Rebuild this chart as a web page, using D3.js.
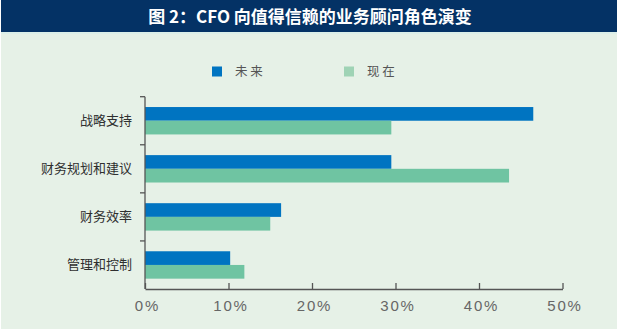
<!DOCTYPE html>
<html>
<head>
<meta charset="utf-8">
<script src="https://cdn.jsdelivr.net/npm/d3@7"></script>
<style>
  html, body { margin: 0; padding: 0; background: #ffffff; }
  svg { display: block; }
</style>
</head>
<body>
<div id="chart"></div>
<script>
// Chart content
const titleText = "图 2：CFO 向值得信赖的业务顾问角色演变";
const categories = ["战略支持", "财务规划和建议", "财务效率", "管理和控制"];
const seriesNames = ["未 来", "现 在"];
const futureValues = [46.5, 29.5, 16.3, 10.2];
const nowValues = [29.5, 43.6, 15.0, 11.9];
const tickValues = [0, 10, 20, 30, 40, 50];
const tickLabels = ["0%", "10%", "20%", "30%", "40%", "50%"];

const W = 620, H = 333;
const colors = ["#0074c1", "#6fc4a2"];
const series = [futureValues, nowValues];

const svg = d3.select("#chart").append("svg")
  .attr("width", W).attr("height", H);

// panel background and header band
svg.append("rect").attr("x", 1).attr("y", 0).attr("width", 616).attr("height", 329)
  .attr("fill", "#e6f1e7");
svg.append("rect").attr("x", 1).attr("y", 0).attr("width", 616).attr("height", 32)
  .attr("fill", "#043265");
svg.append("rect").attr("x", 1).attr("y", 32).attr("width", 616).attr("height", 2)
  .attr("fill", "#dcefe9");
svg.append("text")
  .attr("x", 310).attr("y", 22.5)
  .attr("text-anchor", "middle")
  .attr("fill", "#ffffff")
  .attr("font-family", "'Noto Sans CJK SC', 'Noto Sans', sans-serif")
  .attr("font-weight", "bold")
  .attr("font-size", 17)
  .text(titleText);

// scales
const x = d3.scaleLinear().domain([0, 50]).range([145, 562.5]);
const y = d3.scaleBand().domain(categories).range([96.7, 289]).paddingInner(0).paddingOuter(0);
const inner = d3.scaleBand().domain([0, 1]).range([0, 27.4]);
const barOffset = (y.bandwidth() - 27.4) / 2;

// bars
series.forEach((vals, si) => {
  svg.append("g").selectAll("rect")
    .data(categories)
    .join("rect")
    .attr("x", x(0))
    .attr("y", d => y(d) + barOffset + inner(si))
    .attr("width", (d, i) => x(vals[i]) - x(0))
    .attr("height", inner.bandwidth())
    .attr("fill", colors[si]);
});

// y axis: line with ticks on band boundaries
const yAxisG = svg.append("g");
yAxisG.append("line")
  .attr("x1", x(0)).attr("x2", x(0))
  .attr("y1", y.range()[0]).attr("y2", y.range()[1])
  .attr("stroke", "#555").attr("stroke-width", 1.3);
const boundaries = categories.map(c => y(c));
yAxisG.selectAll("line.tk").data(boundaries).join("line")
  .attr("class", "tk")
  .attr("x1", x(0) - 5).attr("x2", x(0))
  .attr("y1", d => d).attr("y2", d => d)
  .attr("stroke", "#555").attr("stroke-width", 1.3);
yAxisG.selectAll("text").data(categories).join("text")
  .attr("x", 132)
  .attr("y", d => y(d) + y.bandwidth() / 2 + 4.5)
  .attr("text-anchor", "end")
  .attr("fill", "#2f2f2f")
  .attr("font-family", "'Noto Sans CJK SC', sans-serif")
  .attr("font-size", 13)
  .text(d => d);

// x axis at the bottom with ticks pointing up
const xAxis = d3.axisBottom(x)
  .tickValues(tickValues)
  .tickSizeInner(-6)
  .tickSizeOuter(0)
  .tickFormat((d, i) => tickLabels[i]);
const xg = svg.append("g").attr("transform", `translate(0,${y.range()[1]})`).call(xAxis);
xg.select(".domain").attr("stroke", "#555").attr("stroke-width", 1.3);
xg.selectAll(".tick line").attr("stroke", "#555").attr("stroke-width", 1.3);
xg.selectAll(".tick text")
  .attr("y", 11)
  .attr("x", 2)
  .attr("fill", "#666")
  .attr("font-family", "'Liberation Sans', Arial, sans-serif")
  .attr("font-size", 15)
  .attr("letter-spacing", 1.8);

// legend
const legendX = [212, 344];
series.forEach((v, si) => {
  svg.append("rect")
    .attr("x", legendX[si]).attr("y", 66.5)
    .attr("width", 10).attr("height", 10)
    .attr("fill", si === 0 ? colors[0] : "#9fd3b5");
  svg.append("text")
    .attr("x", legendX[si] + 23).attr("y", 76)
    .attr("fill", "#555")
    .attr("font-family", "'Noto Sans CJK SC', sans-serif")
    .attr("font-size", 12.5)
    .text(seriesNames[si]);
});
</script>
</body>
</html>
